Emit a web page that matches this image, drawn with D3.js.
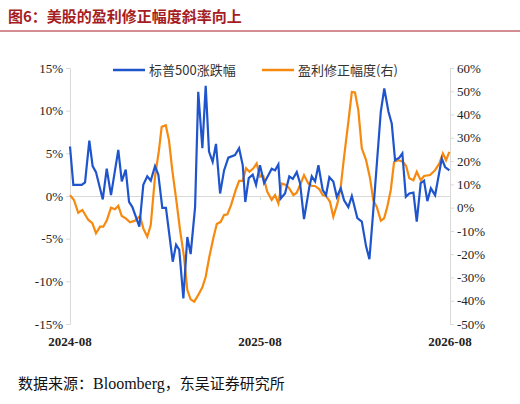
<!DOCTYPE html><html><head><meta charset="utf-8"><script src="https://d3js.org/d3.v7.min.js"></script>
<style>body{margin:0;background:#fff}</style></head><body><script>
const xTickLabels=["2024-08","2025-08","2026-08"];
const xTickMonths=[0,12,24];
const leftTicks=[-15,-10,-5,0,5,10,15];
const rightTicks=[-50,-40,-30,-20,-10,0,10,20,30,40,50,60];
const seriesNames=["标普500涨跌幅","盈利修正幅度(右)"];
// month offset from 2024-08
const spxT=[0,0.21,0.74,0.95,1.22,1.43,1.64,2.07,2.32,2.59,3.05,3.27,3.52,3.73,3.94,4.38,4.63,4.88,5.10,5.37,5.58,5.83,6.06,6.49,6.70,6.90,7.16,7.41,7.62,7.90,8.10,8.36,8.57,8.78,9.01,9.22,9.48,9.73,10.0,10.42,10.68,10.91,11.07,11.29,11.54,11.75,12.0,12.26,12.74,12.95,13.16,13.31,13.58,13.85,14.07,14.32,14.53,14.78,15.12,15.27,15.48,15.69,15.96,16.17,16.38,16.63,16.85,17.10,17.31,17.58,17.80,18.15,18.43,18.70,18.91,19.16,19.63,19.85,20.11,20.32,20.53,20.80,20.99,21.21,21.43,21.69,21.90,22.15,22.36,22.57,22.79,23.06,23.48,23.69,23.96];
const spxV=[5.8,1.3,1.3,1.6,6.5,3.5,2.8,-0.4,3.2,0.1,5.4,1.7,3.1,-0.7,-1.3,-3.6,1.3,2.3,1.8,3.5,2.5,-1.4,-1.4,-7.7,-5.7,-6.3,-12.0,-4.8,-6.8,-1.3,12.2,5.6,12.9,5.2,4.0,6.1,0.3,3.0,4.5,4.8,5.6,3.6,-0.7,2.1,2.5,1.3,3.6,1.5,3.2,3.0,3.7,-0.3,0.3,2.3,2.0,2.8,1.5,-2.7,1.1,2.3,1.7,3.6,0.7,0.1,2.2,1.7,-0.1,0.9,-0.5,-1.3,0,-2.6,-3.0,-5.9,-7.4,-1.6,9.9,12.6,9.9,8.5,4.2,4.5,5.0,-0.1,0.3,0.4,-3.0,1.5,1.8,-0.6,0.9,0.1,4.4,3.4,3.0];
const revT=[0,0.25,0.52,0.78,1.16,1.41,1.64,1.90,2.10,2.32,2.59,2.84,3.05,3.27,3.52,3.79,4.11,4.42,4.63,4.88,5.10,5.37,5.62,5.79,6.05,6.25,6.46,6.74,6.95,7.20,7.41,7.62,7.85,8.10,8.36,8.57,8.80,9.05,9.27,9.52,9.73,9.94,10.17,10.47,10.68,10.91,11.12,11.33,11.58,11.79,12.0,12.21,12.46,12.74,12.95,13.16,13.37,13.64,13.85,14.11,14.32,14.53,14.78,15.05,15.27,15.48,15.75,15.96,16.17,16.42,16.63,16.89,17.10,17.31,17.58,17.80,18.0,18.21,18.43,18.70,18.95,19.16,19.37,19.63,19.84,20.04,20.26,20.47,20.74,21.02,21.23,21.43,21.69,21.90,22.15,22.36,22.74,23.06,23.33,23.55,23.75,23.96];
const revV=[5.4,3.3,-2.2,-1.0,-5.3,-6.7,-11.0,-8.2,-8.2,-5.6,0,-0.7,0.8,-3.6,-4.6,-6.3,-5.6,-3.6,-8.9,-12.5,-7.5,13.3,24.7,34.7,35.4,29.0,16.1,1.8,-9.6,-21.1,-35.4,-39.4,-40.4,-37.5,-34.2,-29.7,-21.1,-13.2,-7.0,-6.1,-3.2,-2.9,1.1,7.6,11.5,11.5,16.9,15.4,16.9,19.0,13.3,13.6,6.8,3.3,5.4,1.8,10.4,9.7,8.3,5.4,6.4,9.7,14.0,10.4,9.3,9.3,7.9,5.4,5.0,2.5,-3.9,1.8,9.0,21.8,36.9,49.7,49.5,41.9,25.5,20.4,12.6,3.0,0.4,-5.6,-4.6,0.4,7.6,19.7,20.4,19.7,17.9,12.6,11.8,15.4,11.8,13.6,14.0,16.1,19.0,23.3,20.4,24.0];

const W=520,H=404,L=70,R=450,T=68,B=324;
const svg=d3.select("body").append("svg").attr("width",W).attr("height",H).style("font-family","'Times New Roman','Liberation Serif',serif");
svg.append("text").attr("x",8).attr("y",22).attr("fill","#a51d23").attr("font-weight","bold").attr("font-size",15).style("font-family","'Noto Sans CJK SC',sans-serif").text("图6：美股的盈利修正幅度斜率向上");
svg.append("line").attr("x1",0).attr("x2",W).attr("y1",31).attr("y2",31).attr("stroke","#a51d23").attr("stroke-width",1);
const src=svg.append("text").attr("x",18).attr("y",389).attr("font-size",15).attr("fill","#111").style("font-family","'Noto Sans CJK SC',serif");
src.append("tspan").text("数据来源：");
src.append("tspan").style("font-family","'Liberation Serif',serif").attr("font-size",16).text("Bloomberg");
src.append("tspan").text("，东吴证券研究所");

const x=d3.scaleLinear().domain([0,24]).range([L,R]);
const yl=d3.scaleLinear().domain([-15,15]).range([B,T]);
const yr=d3.scaleLinear().domain([-50,60]).range([B,T]);
const g=svg.append("g");
const ax=d3.axisLeft(yl).tickValues(leftTicks).tickFormat(d=>d+"%").tickSize(4);
g.append("g").attr("transform",`translate(${L},0)`).call(ax);
g.append("g").attr("transform",`translate(${R},0)`).call(d3.axisRight(yr).tickValues(rightTicks).tickFormat(d=>d+"%").tickSize(4));
g.selectAll(".domain,.tick line").attr("stroke","#d9d9d9");
g.selectAll(".tick text").attr("font-size",13).attr("fill","#222").style("font-family","'Times New Roman','Liberation Serif',serif");
const xa=svg.append("g").attr("transform",`translate(0,${yl(0)})`).call(d3.axisBottom(x).tickValues(xTickMonths).tickFormat("").tickSize(4));
xa.selectAll(".domain,.tick line").attr("stroke","#d9d9d9");
svg.selectAll(".xl").data(xTickLabels).join("text").attr("x",(d,i)=>x(xTickMonths[i])).attr("y",346).attr("text-anchor","middle").attr("font-size",13).attr("font-weight","bold").attr("fill","#222").text(d=>d);

const line=(ys,tv)=>d3.line().x((d,i)=>x(tv[i])).y(d=>ys(d));
svg.append("path").attr("d",line(yr,revT)(revV)).attr("fill","none").attr("stroke","#f7890f").attr("stroke-width",2.2);
svg.append("path").attr("d",line(yl,spxT)(spxV)).attr("fill","none").attr("stroke","#1f55cc").attr("stroke-width",2.2);

const leg=[{c:"#1f55cc",x:113},{c:"#f7890f",x:262}];
leg.forEach((l,i)=>{svg.append("line").attr("x1",l.x).attr("x2",l.x+32).attr("y1",70).attr("y2",70).attr("stroke",l.c).attr("stroke-width",2.5);
svg.append("text").attr("x",l.x+36).attr("y",75).attr("font-size",13).attr("fill","#333").style("font-family","'Noto Sans CJK SC',sans-serif").text(seriesNames[i]);});
</script></body></html>
